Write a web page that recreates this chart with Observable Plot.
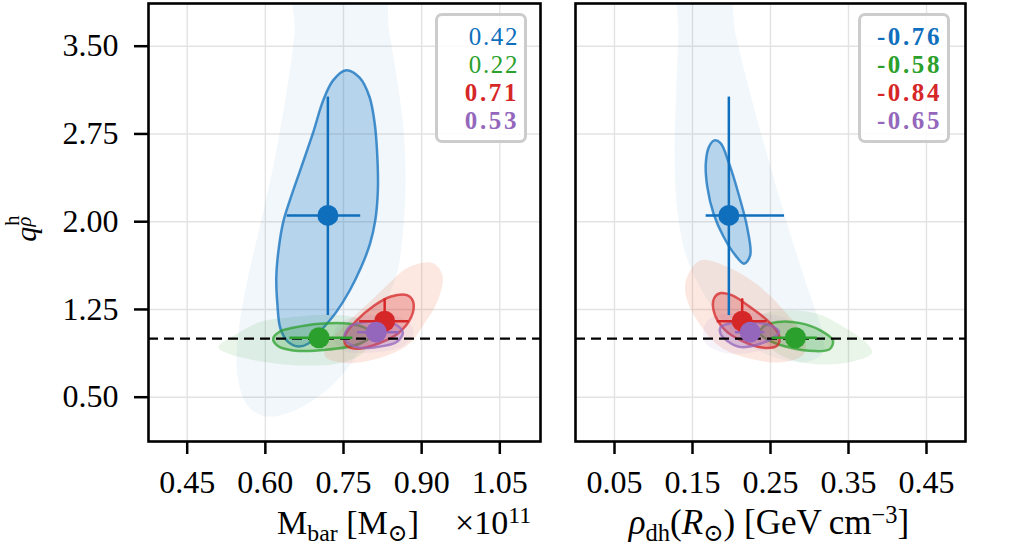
<!DOCTYPE html>
<html>
<head>
<meta charset="utf-8">
<script src="https://cdn.jsdelivr.net/npm/d3@7"></script>
<script src="https://cdn.jsdelivr.net/npm/@observablehq/plot@0.6"></script>
<style>
  body { margin: 0; background: #fff; }
  #wrap { position: relative; width: 1015px; height: 554px; overflow: hidden; font-family: 'Liberation Serif', 'DejaVu Serif', serif; }
  .panel { position: absolute; top: 0; }
  .legend { position: absolute; top: 13px; width: 92px; height: 130px; box-sizing: border-box;
            border: 3px solid #cccccc; border-radius: 7px; background: rgba(255,255,255,0.85);
            text-align: right; padding: 7px 5px 0 0; font-size: 25px; line-height: 28px; }
  .lbl { position: absolute; font-size: 34px; white-space: nowrap; line-height: 1; }
  .sub { font-size: 70%; position: relative; top: 0.3em; }
  .sup { font-size: 70%; position: relative; top: -0.45em; }
</style>
</head>
<body>
<div id="wrap"></div>
<script>
// ---------------- data ----------------
const seriesNames = ["blue", "green", "red", "purple"];
const seriesColors = ["#0f6fbd", "#2ca02c", "#d62728", "#9467bd"];
const outerColors = ["#0f6fbd", "#2ca02c", "#ee6e46", "#9467bd"];

const xTicksLeft = [0.45, 0.60, 0.75, 0.90, 1.05];
const xTicksRight = [0.05, 0.15, 0.25, 0.35, 0.45];
const yTicks = [0.50, 1.25, 2.00, 2.75, 3.50];
const refLine = [1.0];

// point estimates (shared y)
const yPoint = [2.054, 1.008, 1.15, 1.056];
const yLow   = [1.198, 0.985, 1.06, 1.02];
const yHigh  = [3.065, 1.030, 1.341, 1.09];

// left panel: M_bar
const xLeftPoint = [0.720, 0.703, 0.829, 0.813];
const xLeftLow   = [0.642, 0.647, 0.781, 0.777];
const xLeftHigh  = [0.783, 0.768, 0.876, 0.857];

// right panel: rho_dh
const xRightPoint = [0.1966, 0.282, 0.2137, 0.224];
const xRightLow   = [0.1675, 0.252, 0.1817, 0.205];
const xRightHigh  = [0.268, 0.310, 0.2458, 0.243];

// correlation labels
const corrLeft = ["0.42", "0.22", "0.71", "0.53"];
const corrLeftBold = [false, false, true, true];
const corrRight = ["-0.76", "-0.58", "-0.84", "-0.65"];
const corrRightBold = [true, true, true, true];

// contours, left panel (outer = faint, inner = filled + outlined)
const leftBlueOuter = [[0.660,4.06],[0.819,4.06],[0.838,3.61],[0.854,3.18],[0.866,2.75],[0.869,2.33],[0.864,1.90],[0.851,1.53],[0.825,1.27],[0.794,1.04],[0.768,0.81],[0.717,0.56],[0.647,0.37],[0.596,0.34],[0.564,0.44],[0.546,0.70],[0.548,1.04],[0.564,1.47],[0.589,1.95],[0.615,2.47],[0.640,3.09],[0.656,3.61]];
const leftBlueInner = [[0.755,3.294],[0.781,3.231],[0.800,3.066],[0.810,2.837],[0.815,2.553],[0.816,2.268],[0.811,2.011],[0.801,1.812],[0.784,1.612],[0.762,1.412],[0.736,1.227],[0.707,1.071],[0.682,0.957],[0.663,0.934],[0.644,0.971],[0.629,1.085],[0.623,1.299],[0.621,1.527],[0.626,1.783],[0.635,2.011],[0.647,2.182],[0.669,2.467],[0.691,2.752],[0.711,3.037],[0.730,3.208]];
const leftGreenOuter = [[0.510,0.928],[0.551,1.056],[0.589,1.142],[0.653,1.185],[0.717,1.205],[0.768,1.185],[0.800,1.113],[0.806,0.985],[0.781,0.857],[0.736,0.786],[0.672,0.771],[0.589,0.808],[0.526,0.877]];
const leftGreenInner = [[0.615,1.000],[0.628,1.062],[0.653,1.093],[0.704,1.128],[0.762,1.128],[0.794,1.085],[0.801,1.019],[0.781,0.957],[0.717,0.905],[0.653,0.900],[0.624,0.937]];
const leftRedOuter = [[0.921,1.646],[0.940,1.541],[0.931,1.327],[0.905,1.128],[0.876,0.957],[0.825,0.843],[0.762,0.791],[0.717,0.837],[0.714,0.914],[0.749,1.099],[0.800,1.313],[0.838,1.475],[0.876,1.612]];
const leftRedInner = [[0.841,1.361],[0.873,1.370],[0.884,1.313],[0.880,1.185],[0.854,1.042],[0.816,0.957],[0.778,0.914],[0.755,0.942],[0.753,1.028],[0.774,1.150],[0.809,1.284]];
const leftPurpleOuter = [[0.745,1.14],[0.800,1.20],[0.860,1.18],[0.885,1.07],[0.865,0.94],[0.800,0.88],[0.750,0.90],[0.730,1.00]];
const leftPurpleInner = [[0.762,1.105],[0.800,1.147],[0.845,1.133],[0.864,1.056],[0.852,0.971],[0.813,0.928],[0.774,0.928],[0.752,1.000]];

// contours, right panel
const rightBlueOuter = [[0.1346,4.06],[0.192,4.06],[0.205,3.607],[0.224,3.094],[0.244,2.610],[0.265,2.125],[0.286,1.669],[0.306,1.270],[0.318,1.014],[0.316,0.871],[0.295,0.800],[0.261,0.828],[0.227,0.928],[0.192,1.128],[0.162,1.413],[0.141,1.726],[0.130,2.125],[0.127,2.610],[0.129,3.094],[0.132,3.607]];
const rightBlueInner = [[0.178,2.695],[0.186,2.672],[0.197,2.496],[0.209,2.239],[0.220,1.954],[0.224,1.712],[0.216,1.641],[0.205,1.712],[0.190,1.869],[0.177,2.068],[0.169,2.296],[0.167,2.496],[0.171,2.638]];
const rightGreenOuter = [[0.239,1.199],[0.271,1.241],[0.310,1.213],[0.344,1.099],[0.374,0.957],[0.380,0.877],[0.357,0.808],[0.314,0.780],[0.280,0.814],[0.254,0.900],[0.237,1.042]];
const rightGreenInner = [[0.240,1.099],[0.259,1.142],[0.288,1.133],[0.314,1.071],[0.330,0.985],[0.326,0.911],[0.306,0.894],[0.276,0.922],[0.250,0.979],[0.237,1.042]];
const rightRedOuter = [[0.143,1.527],[0.160,1.669],[0.195,1.612],[0.237,1.441],[0.271,1.213],[0.293,1.014],[0.293,0.871],[0.267,0.800],[0.224,0.828],[0.186,0.928],[0.156,1.156],[0.141,1.384]];
const rightRedInner = [[0.186,1.390],[0.201,1.370],[0.224,1.270],[0.246,1.156],[0.261,1.028],[0.259,0.942],[0.241,0.922],[0.212,0.985],[0.190,1.085],[0.177,1.242],[0.178,1.350]];
const rightPurpleOuter = [[0.170,1.16],[0.220,1.22],[0.275,1.15],[0.280,1.00],[0.240,0.90],[0.190,0.88],[0.165,0.98]];
const rightPurpleInner = [[0.186,1.099],[0.199,1.133],[0.224,1.142],[0.250,1.113],[0.261,1.056],[0.254,1.008],[0.237,0.957],[0.212,0.928],[0.195,0.979],[0.186,1.042]];

// ---------------- drawing ----------------
const FONT = "'Liberation Serif', 'DejaVu Serif', serif";
const outerOpacity = [0.06, 0.10, 0.16, 0.08];
const innerOpacity = [0.26, 0.25, 0.28, 0.30];

function toRows(arr) { return arr.map(([x, y]) => ({x, y})); }

function contourMarks(outers, inners) {
  const marks = [];
  outers.forEach((o, i) => {
    marks.push(Plot.line(toRows(o), {x: "x", y: "y", curve: "catmull-rom-closed",
      fill: outerColors[i], fillOpacity: outerOpacity[i], stroke: "none", clip: true}));
  });
  inners.forEach((o, i) => {
    marks.push(Plot.line(toRows(o), {x: "x", y: "y", curve: "catmull-rom-closed",
      fill: seriesColors[i], fillOpacity: innerOpacity[i], stroke: seriesColors[i],
      strokeOpacity: 0.75, strokeWidth: 2.5, clip: true}));
  });
  return marks;
}

function pointMarks(xp, xl, xh) {
  const marks = [];
  seriesNames.forEach((s, i) => {
    const row = [{x: xp[i], y: yPoint[i], xl: xl[i], xh: xh[i], yl: yLow[i], yh: yHigh[i]}];
    marks.push(Plot.ruleX(row, {x: "x", y1: "yl", y2: "yh", stroke: seriesColors[i], strokeWidth: 2.5}));
    marks.push(Plot.ruleY(row, {y: "y", x1: "xl", x2: "xh", stroke: seriesColors[i], strokeWidth: 2.5}));
  });
  seriesNames.forEach((s, i) => {
    marks.push(Plot.dot([{x: xp[i], y: yPoint[i]}], {x: "x", y: "y", r: 10.5, fill: seriesColors[i], stroke: "none"}));
  });
  return marks;
}

const gridStyle = {stroke: "#e3e3e3", strokeOpacity: 1, strokeWidth: 1.4};
const fmt = d => d.toFixed(2);

const left = Plot.plot({
  width: 545, height: 554,
  marginLeft: 148, marginRight: 5, marginTop: 3, marginBottom: 113,
  x: {domain: [0.45, 1.05], range: [186.7, 499.3]},
  y: {domain: [0.5, 3.5], range: [396.7, 45.7]},
  style: {fontFamily: FONT, fontSize: "32px", background: "transparent", color: "black"},
  marks: [
    Plot.gridX(xTicksLeft, gridStyle),
    Plot.gridY(yTicks, gridStyle),
    ...contourMarks([leftBlueOuter, leftGreenOuter, leftRedOuter, leftPurpleOuter],
                    [leftBlueInner, leftGreenInner, leftRedInner, leftPurpleInner]),
    Plot.ruleY(refLine, {stroke: "black", strokeWidth: 2.3, strokeDasharray: "10,6"}),
    ...pointMarks(xLeftPoint, xLeftLow, xLeftHigh),
    Plot.frame({stroke: "black", strokeWidth: 2.6}),
    Plot.axisX(xTicksLeft, {tickSize: 13, tickPadding: 16, strokeWidth: 2.5, fontSize: 32, tickFormat: fmt, label: null}),
    Plot.axisY(yTicks, {tickSize: 14, tickPadding: 16, strokeWidth: 2.5, fontSize: 32, tickFormat: fmt, label: null})
  ]
});

const right = Plot.plot({
  width: 470, height: 554,
  marginLeft: 30, marginRight: 50, marginTop: 3, marginBottom: 113,
  x: {domain: [0.05, 0.45], range: [69, 381]},
  y: {domain: [0.5, 3.5], range: [396.7, 45.7], axis: null},
  style: {fontFamily: FONT, fontSize: "32px", background: "transparent", color: "black"},
  marks: [
    Plot.gridX(xTicksRight, gridStyle),
    Plot.gridY(yTicks, gridStyle),
    ...contourMarks([rightBlueOuter, rightGreenOuter, rightRedOuter, rightPurpleOuter],
                    [rightBlueInner, rightGreenInner, rightRedInner, rightPurpleInner]),
    Plot.ruleY(refLine, {stroke: "black", strokeWidth: 2.3, strokeDasharray: "10,6"}),
    ...pointMarks(xRightPoint, xRightLow, xRightHigh),
    Plot.frame({stroke: "black", strokeWidth: 2.6}),
    Plot.axisX(xTicksRight, {tickSize: 13, tickPadding: 16, strokeWidth: 2.5, fontSize: 32, tickFormat: fmt, label: null})
  ]
});

const wrap = document.getElementById("wrap");
left.classList.add("panel"); left.style.left = "0px";
right.classList.add("panel"); right.style.left = "545px";
wrap.appendChild(left);
wrap.appendChild(right);

function legend(x, labels, bolds) {
  const d = document.createElement("div");
  d.className = "legend";
  d.style.left = x + "px";
  labels.forEach((t, i) => {
    const s = document.createElement("div");
    s.textContent = t;
    s.style.color = seriesColors[i];
    s.style.fontWeight = bolds[i] ? "bold" : "normal";
    s.style.letterSpacing = bolds[i] ? "2.6px" : "1.6px";
    d.appendChild(s);
  });
  wrap.appendChild(d);
}
legend(435, corrLeft, corrLeftBold);
legend(858, corrRight, corrRightBold);

function label(html, css) {
  const d = document.createElement("div");
  d.className = "lbl";
  d.innerHTML = html;
  Object.assign(d.style, css);
  wrap.appendChild(d);
}
label('M<span class="sub">bar</span> [M<span class="sub">⊙</span>]', {left: "277px", top: "506px"});
label('×10<span class="sup">11</span>', {left: "455px", top: "506px"});
label('<i>ρ</i><span class="sub">dh</span>(<i>R</i><span class="sub">⊙</span>) [GeV&#8201;cm<span class="sup">−3</span>]', {left: "769px", top: "505px", fontSize: "35px", transform: "translateX(-50%)"});
label('<i>q</i><span style="position:relative;display:inline-block;width:0.42em;height:1em;">' +
      '<span style="position:absolute;left:0.05em;top:-0.2em;font-size:68%;">h</span>' +
      '<span style="position:absolute;left:0.02em;top:0.38em;font-size:68%;"><i>ρ</i></span></span>',
      {left: "23px", top: "228px", fontSize: "30px", transform: "translate(-50%,-50%) rotate(-90deg)"});
</script>
</body>
</html>
